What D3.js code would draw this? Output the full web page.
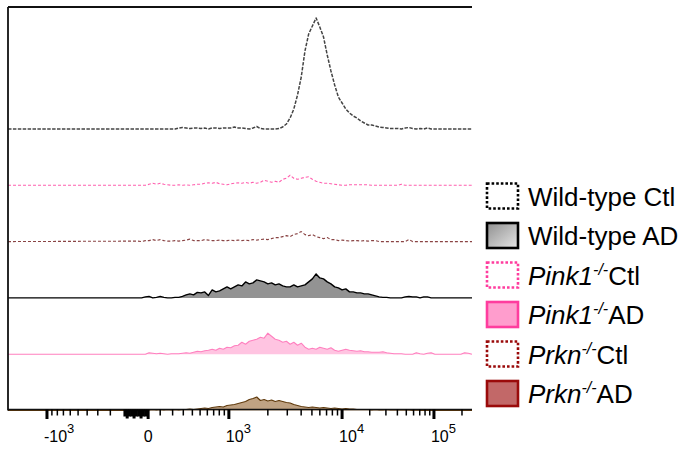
<!DOCTYPE html>
<html><head><meta charset="utf-8">
<script src="https://cdn.jsdelivr.net/npm/d3@7"></script>
<style>
body{margin:0;background:#fff}
svg{display:block}
text{font-family:"Liberation Sans",Arial,Helvetica,sans-serif;fill:#000}
</style>
</head><body>
<svg id="chart" width="682" height="451"></svg>
<script>
// ---- DATA ----
// Histogram bins on the 0-1000 display-channel scale: first bin centre and width
const binStart = 280, binStep = 8;
const wtCtl = [0,0,0,0,0,0,0,0,0,0,0, 2,3,2,1,2,2,1,2,0,2, 2,1,2,2,2,4,2,2,1,0, 2,5,1,0,0,0,0,1,4,10,
  22,40,68,104,156,190,206,222,204,184, 148,116,88,64,52,40,32,26,22,16, 12,8,8,6,4,3,2,1,1,1,
  0,2,3,1,0,1,0,2,0,0, 0,0,0,0,0,0,0,0,0,0];
const pink1Ctl = [0,0,0,2,4,2,4,2,1,0,0, 1,0,1,0,1,2,2,4,5,4, 6,3,2,1,3,4,5,4,6,4, 6,4,6,10,8,6,8,6,12,14,
  20,14,12,14,16,17,12,8,6,4, 4,3,2,1,0,0,1,1,1,1, 1,1,0,0,0,0,0,0,0,0,
  2,0,0,0,0,0,0,0,0,0, 0,0,0,0,0,0,0,0,0,0];
const prknCtl = [1,0,2,2,4,2,4,2,1,1,2, 1,2,3,5,2,2,2,4,3,2, 2,3,2,2,3,2,3,2,3,2, 4,3,4,5,4,6,8,8,10,12,
  10,14,16,20,14,12,14,10,8,6, 8,4,4,2,3,2,1,2,2,1, 2,1,2,2,0,0,0,0,0,0,
  0,0,4,0,0,0,0,0,0,0, 0,0,0,0,0,0,0,0,0,0];
const wtAD = [0,0,2,3,0,1,3,1,0,0,1, 1,3,6,8,6,11,10,12,5,16, 12,14,18,22,18,22,26,24,32,28, 30,36,34,32,28,30,26,28,24,22,
  22,26,22,24,26,32,38,48,40,38, 32,28,22,20,16,18,12,12,10,10, 8,8,6,4,2,1,1,0,0,0,
  0,2,3,2,2,0,2,2,0,0, 0,0,0,0,0,0,0,0,0,0];
const pink1AD = [0,0,0,3,2,1,2,1,0,1,1, 1,2,3,2,4,6,5,7,8,10, 8,12,10,14,13,17,18,24,20,26, 28,30,34,32,42,36,30,28,24,26,
  20,24,18,22,14,10,12,10,14,12, 10,13,8,6,8,10,8,7,6,7, 5,5,4,4,4,5,3,2,1,1,
  1,0,0,0,3,1,0,2,3,0, 0,0,0,0,0,0,0,3,2,0];
const prknAD = [0,0,0,1,2,1,2,1,2,1,2, 1,2,2,3,2,3,4,5,4,6, 7,8,7,10,11,12,14,16,18,22, 24,27,20,22,19,21,18,20,18,16,
  15,12,10,8,7,6,7,6,5,6, 5,4,5,4,3,4,3,3,2,2, 2,2,1,2,1,1,2,1,1,1,
  1,1,1,0,1,0,0,0,0,0, 0,0,0,0,0,0,0,0,0,0];

// stacking order, top to bottom
const stackOrder = ["wtCtl","pink1Ctl","prknCtl","wtAD","pink1AD","prknAD"];
const legendOrder = ["wtCtl","wtAD","pink1Ctl","pink1AD","prknCtl","prknAD"];
const legendGene = {wtCtl:"", wtAD:"", pink1Ctl:"Pink1", pink1AD:"Pink1", prknCtl:"Prkn", prknAD:"Prkn"};
const legendRest = {wtCtl:"Wild-type Ctl", wtAD:"Wild-type AD", pink1Ctl:"Ctl", pink1AD:"AD", prknCtl:"Ctl", prknAD:"AD"};
const legendSup = "-/-";

// axis ticks (fluorescence units)
const majorTicks = [-1000, 0, 1000, 10000, 100000];
const majorBase = ["-10", "0", "10", "10", "10"];
const majorExp = ["3", "", "3", "4", "5"];
const minorTicks = [-900,-800,-700,-600,-500,-400,-300,-200,
  100,200,300,400,500,600,700,800,900,
  2000,3000,4000,5000,6000,7000,8000,9000,
  20000,30000,40000,50000,60000,70000,80000,90000,200000];
const nearZeroTicks = [-100,-90,-80,-70,-60,-50,-40,-30,-20,-10];

// ---- STYLES ----
const style = {
  wtCtl:   {stroke:"#444444", fill:"none", dash:"3.5,1.4", w:1.5},
  pink1Ctl:{stroke:"#ff5fae", fill:"none", dash:"3,2", w:1.1},
  prknCtl: {stroke:"#8a4444", fill:"none", dash:"3,2", w:1.1},
  wtAD:    {stroke:"#000000", fill:"#939393", dash:null, w:1.4},
  pink1AD: {stroke:"#ff80bf", fill:"#ffc4e1", dash:null, w:1.1},
  prknAD:  {stroke:"#603a0c", fill:"#bfa283", dash:null, w:1.2}
};
const legendStyle = {
  wtCtl:   {stroke:"#000", fill:"#fff", dash:"2.6,2"},
  wtAD:    {stroke:"#000", fill:"url(#gray)", dash:null},
  pink1Ctl:{stroke:"#ff3d9e", fill:"#fff", dash:"2.6,2"},
  pink1AD: {stroke:"#ff3d9e", fill:"#ff9dcd", dash:null},
  prknCtl: {stroke:"#9a0a0a", fill:"#fff", dash:"2.6,2"},
  prknAD:  {stroke:"#9a0a0a", fill:"#c26868", dash:null}
};
const dataBy = {wtCtl, pink1Ctl, prknCtl, wtAD, pink1AD, prknAD};

// ---- SCALES ----
const L = 8, R = 472, T = 7, B = 409.5;
const chan = d3.scaleLinear().domain([0, 1000]).range([L, R]);
// biexponential-like display transform: value -> display channel
const tf = v => Math.asinh(v / 300);
const anchorVals = [-1000, -100, 0, 100, 500, 1000, 2000, 5000, 10000, 100000, 262144];
const anchorChan = [84, 252, 302, 328, 414, 476, 560, 655, 720, 918, 1002];
const valToChan = d3.scaleLinear().domain(anchorVals.map(tf)).range(anchorChan);
const xv = v => chan(valToChan(tf(v)));

const base = d3.scalePoint().domain(stackOrder).range([129, 410.5]);
const h = d3.scaleLinear().domain([0, 250]).range([0, 125]);

const svg = d3.select("#chart");
const defs = svg.append("defs");
const g = defs.append("linearGradient").attr("id","gray").attr("x1","0").attr("y1","0").attr("x2","1").attr("y2","1");
g.append("stop").attr("offset","0").attr("stop-color","#8f8f8f");
g.append("stop").attr("offset","1").attr("stop-color","#e6e6e6");

// ---- HISTOGRAMS ----
stackOrder.forEach(key => {
  const vals = dataBy[key];
  const pts = [[0, 0]].concat(vals.map((v, i) => [binStart + i * binStep, v]));
  const y0 = base(key), s = style[key];
  if (s.fill !== "none") {
    svg.append("path")
      .attr("d", d3.area().x(d => chan(d[0])).y0(y0).y1(d => y0 - h(d[1]))(pts))
      .attr("fill", s.fill).attr("stroke", "none");
  }
  svg.append("path")
    .attr("d", d3.line().x(d => chan(d[0])).y(d => y0 - h(d[1]))(pts))
    .attr("fill", "none").attr("stroke", s.stroke).attr("stroke-width", s.w)
    .attr("stroke-dasharray", s.dash).attr("stroke-linejoin", "round");
});

// ---- FRAME ----
svg.append("line").attr("x1", L).attr("x2", R).attr("y1", T).attr("y2", T)
  .attr("stroke", "#111").attr("stroke-width", 1.8);
svg.append("line").attr("x1", L).attr("x2", L).attr("y1", T).attr("y2", B + 1)
  .attr("stroke", "#111").attr("stroke-width", 1.8);
svg.append("line").attr("x1", L).attr("x2", R).attr("y1", B).attr("y2", B)
  .attr("stroke", "#111").attr("stroke-width", 1.3);

// ---- AXIS ----
const ax = svg.append("g");
ax.selectAll("line.minor").data(minorTicks).join("line").attr("class","minor")
  .attr("x1", xv).attr("x2", xv).attr("y1", B).attr("y2", B + 6)
  .attr("stroke", "#000").attr("stroke-width", 1.5);
ax.selectAll("line.near").data(nearZeroTicks).join("line").attr("class","near")
  .attr("x1", xv).attr("x2", xv).attr("y1", B).attr("y2", (d,i) => B + (i % 3 === 1 ? 9 : 7))
  .attr("stroke", "#000").attr("stroke-width", 3);
ax.selectAll("line.major").data(majorTicks).join("line").attr("class","major")
  .attr("x1", xv).attr("x2", xv).attr("y1", B).attr("y2", B + 9.5)
  .attr("stroke", "#000").attr("stroke-width", 3);

const lab = ax.selectAll("text.tl").data(majorTicks).join("text").attr("class","tl")
  .attr("x", (d,i) => majorExp[i] ? xv(d) - 3 : xv(d))
  .attr("y", 442)
  .attr("text-anchor", (d,i) => majorExp[i] ? "start" : "middle")
  .style("font-size", "16px");
lab.append("tspan").text((d,i) => majorBase[i]);
lab.append("tspan").attr("dy", -9).style("font-size", "13px").text((d,i) => majorExp[i]);

// ---- LEGEND ----
const legY = d3.scalePoint().domain(legendOrder).range([196, 393.5]);
const leg = svg.append("g");
legendOrder.forEach(key => {
  const cy = legY(key), ls = legendStyle[key];
  leg.append("rect").attr("x", 487).attr("y", cy - 12.5).attr("width", 31).attr("height", 25)
    .attr("fill", ls.fill).attr("stroke", ls.stroke).attr("stroke-width", 2.6)
    .attr("stroke-dasharray", ls.dash);
  const t = leg.append("text").attr("x", 528).attr("y", cy + 9.5).style("font-size", "26px");
  if (legendGene[key]) {
    t.append("tspan").style("font-style", "italic").text(legendGene[key]);
    t.append("tspan").style("font-style", "italic").style("font-size", "16px").attr("dy", -10).text(legendSup);
    t.append("tspan").attr("dy", 10).text(legendRest[key]);
  } else {
    t.append("tspan").text(legendRest[key]);
  }
});
</script>
</body></html>
